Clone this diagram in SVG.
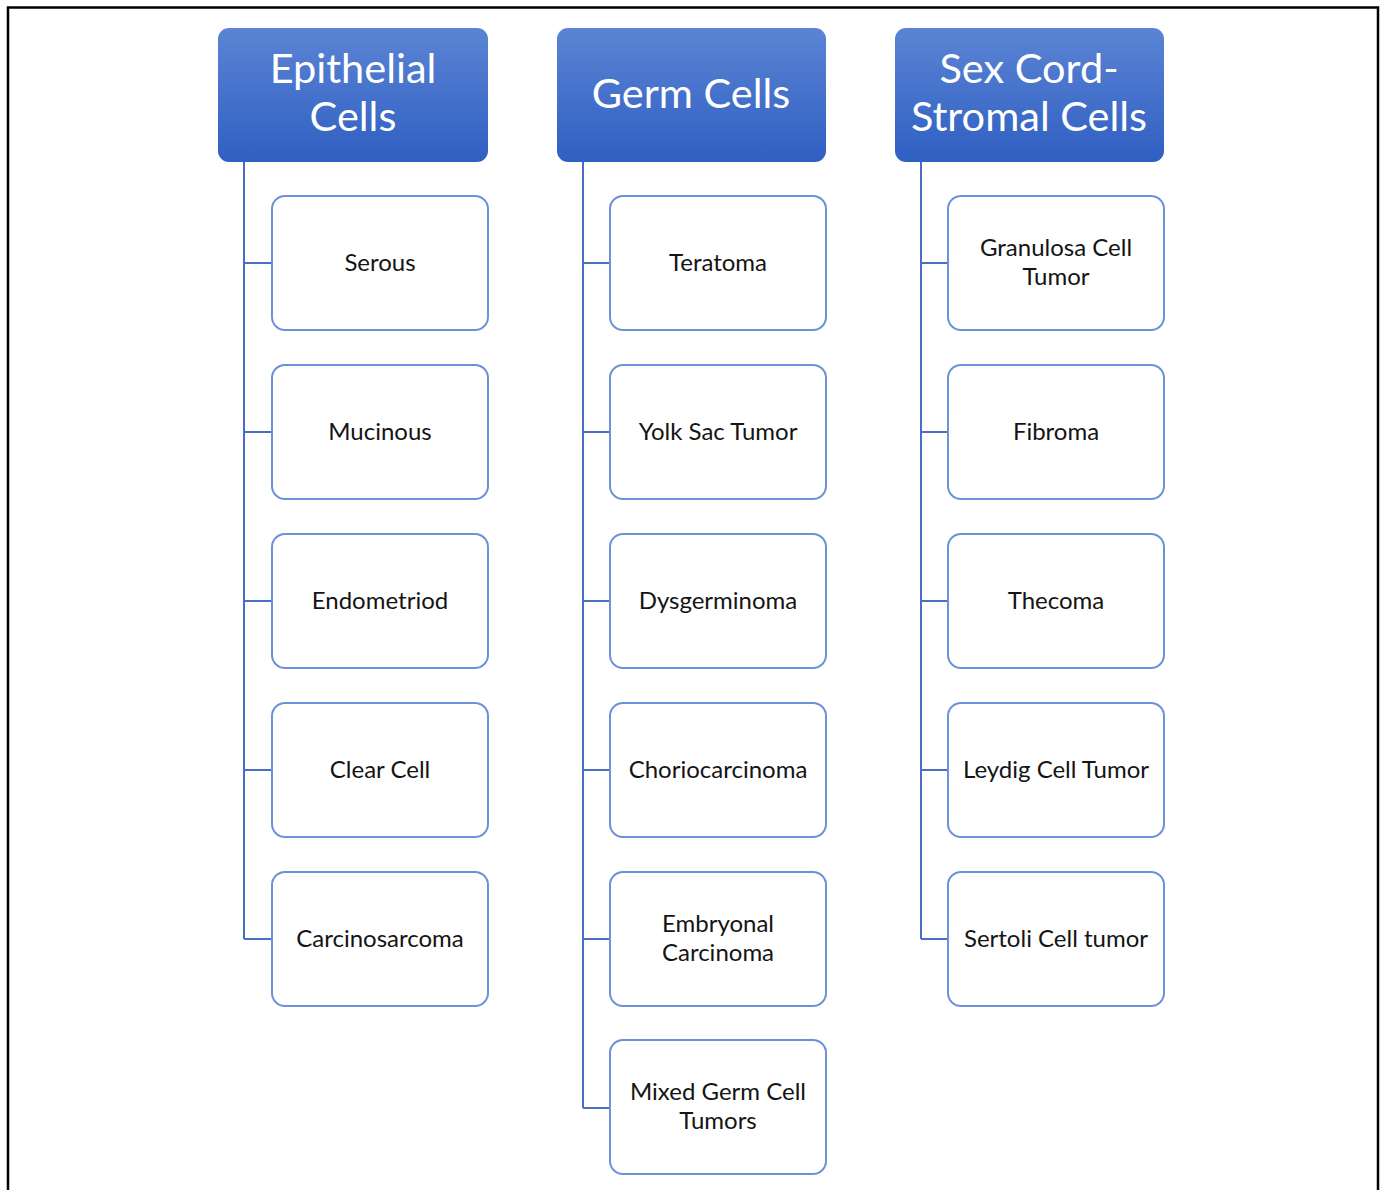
<svg xmlns="http://www.w3.org/2000/svg" width="1380" height="1190" viewBox="0 0 1380 1190">
<defs>
<linearGradient id="hg" x1="0" y1="0" x2="0" y2="1">
<stop offset="0" stop-color="#5b84d4"/>
<stop offset="1" stop-color="#2f5fc2"/>
</linearGradient>
<style>
.hdr{fill:url(#hg);}
.ht{font-family:Lato,"Liberation Sans",sans-serif;font-size:41.5px;fill:#ffffff;text-anchor:middle;}
.box{fill:#ffffff;stroke:#6c91d9;stroke-width:2;}
.bt{font-family:Lato,"Liberation Sans",sans-serif;font-size:24px;fill:#141414;text-anchor:middle;}
.con{fill:none;stroke:#4a6ec2;stroke-width:2;}
</style>
</defs>
<rect width="1380" height="1190" fill="#ffffff"/>
<path d="M8,1190 V7.5 H1378 V1190" fill="none" stroke="#000" stroke-width="2.5"/>
<g id="connectors">
<path class="con" d="M244,162 V939 M244,263 H272 M244,432 H272 M244,601 H272 M244,770 H272 M244,939 H272"/>
<path class="con" d="M583,162 V1108 M583,263 H610 M583,432 H610 M583,601 H610 M583,770 H610 M583,939 H610 M583,1108 H610"/>
<path class="con" d="M921,162 V939 M921,263 H948 M921,432 H948 M921,601 H948 M921,770 H948 M921,939 H948"/>
</g>
<g id="h-epithelial"><rect class="hdr" x="218" y="28" width="270" height="134" rx="11"/><text class="ht" x="353" y="83">Epithelial</text><text class="ht" x="353" y="131">Cells</text></g>
<g id="h-germ"><rect class="hdr" x="557" y="28" width="269" height="134" rx="11"/><text class="ht" x="691" y="108">Germ Cells</text></g>
<g id="h-sexcord"><rect class="hdr" x="895" y="28" width="269" height="134" rx="11"/><text class="ht" x="1029" y="83">Sex Cord-</text><text class="ht" x="1029" y="131">Stromal Cells</text></g>

<g id="n-serous"><rect class="box" x="272" y="196" width="216" height="134" rx="13"/><text class="bt" x="380" y="271">Serous</text></g>
<g id="n-mucinous"><rect class="box" x="272" y="365" width="216" height="134" rx="13"/><text class="bt" x="380" y="440">Mucinous</text></g>
<g id="n-endometriod"><rect class="box" x="272" y="534" width="216" height="134" rx="13"/><text class="bt" x="380" y="609">Endometriod</text></g>
<g id="n-clearcell"><rect class="box" x="272" y="703" width="216" height="134" rx="13"/><text class="bt" x="380" y="778">Clear Cell</text></g>
<g id="n-carcinosarcoma"><rect class="box" x="272" y="872" width="216" height="134" rx="13"/><text class="bt" x="380" y="947">Carcinosarcoma</text></g>

<g id="n-teratoma"><rect class="box" x="610" y="196" width="216" height="134" rx="13"/><text class="bt" x="718" y="271">Teratoma</text></g>
<g id="n-yolksac"><rect class="box" x="610" y="365" width="216" height="134" rx="13"/><text class="bt" x="718" y="440">Yolk Sac Tumor</text></g>
<g id="n-dysgerminoma"><rect class="box" x="610" y="534" width="216" height="134" rx="13"/><text class="bt" x="718" y="609">Dysgerminoma</text></g>
<g id="n-choriocarcinoma"><rect class="box" x="610" y="703" width="216" height="134" rx="13"/><text class="bt" x="718" y="778">Choriocarcinoma</text></g>
<g id="n-embryonal"><rect class="box" x="610" y="872" width="216" height="134" rx="13"/><text class="bt" x="718" y="932">Embryonal</text><text class="bt" x="718" y="961">Carcinoma</text></g>
<g id="n-mixedgerm"><rect class="box" x="610" y="1040" width="216" height="134" rx="13"/><text class="bt" x="718" y="1100">Mixed Germ Cell</text><text class="bt" x="718" y="1129">Tumors</text></g>

<g id="n-granulosa"><rect class="box" x="948" y="196" width="216" height="134" rx="13"/><text class="bt" x="1056" y="256">Granulosa Cell</text><text class="bt" x="1056" y="285">Tumor</text></g>
<g id="n-fibroma"><rect class="box" x="948" y="365" width="216" height="134" rx="13"/><text class="bt" x="1056" y="440">Fibroma</text></g>
<g id="n-thecoma"><rect class="box" x="948" y="534" width="216" height="134" rx="13"/><text class="bt" x="1056" y="609">Thecoma</text></g>
<g id="n-leydig"><rect class="box" x="948" y="703" width="216" height="134" rx="13"/><text class="bt" x="1056" y="778">Leydig Cell Tumor</text></g>
<g id="n-sertoli"><rect class="box" x="948" y="872" width="216" height="134" rx="13"/><text class="bt" x="1056" y="947">Sertoli Cell tumor</text></g>
</svg>
